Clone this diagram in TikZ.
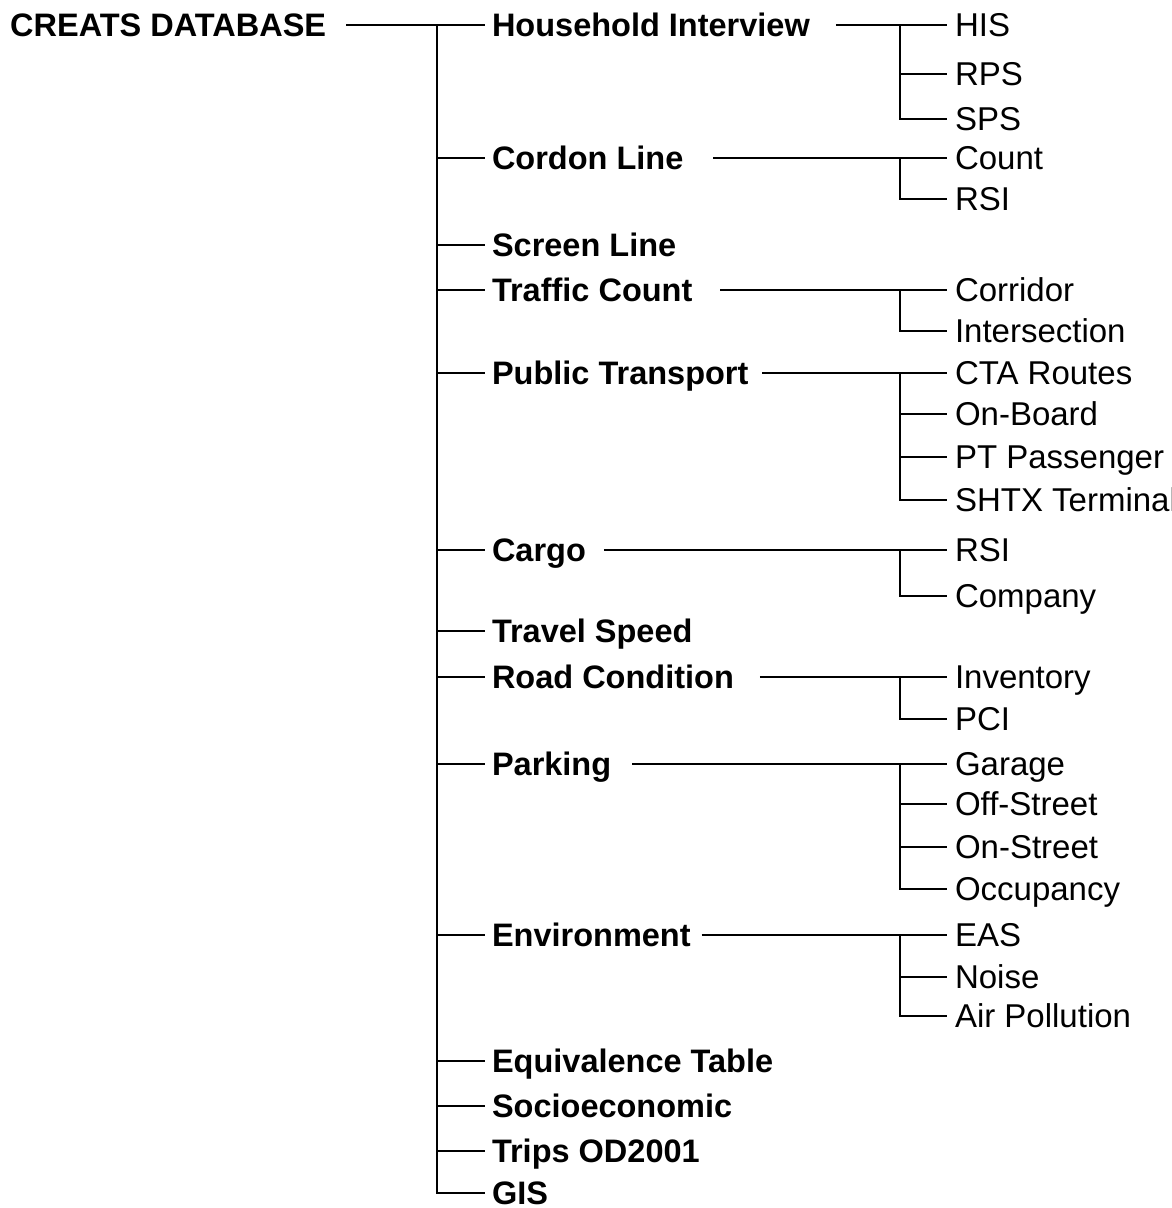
\documentclass[tikz,border=0pt]{standalone}
\usepackage{fontspec}
\setmainfont{Liberation Sans}
\usetikzlibrary{positioning}
\tikzset{
  lbl/.style={anchor=west, inner sep=0pt, text height=23.5pt, text depth=0pt,
    font=\fontsize{33}{37}\selectfont},
  root/.style={lbl, font=\fontsize{32.5}{37}\selectfont\bfseries},
  topic/.style={root, outer xsep=7pt},
  item/.style={lbl, outer xsep=8pt},
  link/.style={line width=2pt},
}

\begin{document}
\begin{tikzpicture}[x=1pt,y=-1pt]
  \useasboundingbox (0,0) rectangle (1171,1208);
  \coordinate (trunk) at (437,0);
  \coordinate (fork) at (900,0);

  \node[root] (db) at (10,25) {CREATS DATABASE};

  % first level
  \foreach \name/\y/\txt in {hh/25/Household Interview, cl/158/Cordon Line,
      sl/245/Screen Line, tc/290/Traffic Count, pt/373/Public Transport,
      cg/550/Cargo, ts/631/Travel Speed, rc/677/Road Condition,
      pk/764/Parking, env/935/Environment, eq/1061/Equivalence Table,
      se/1106/Socioeconomic, od/1151/Trips OD2001, gis/1193/GIS}
    \node[topic] (\name) at (485,\y) {\txt};

  % second level
  \foreach \name/\y/\txt in {his/25/HIS, rps/74/RPS, sps/119/SPS,
      count/158/Count, rsia/199/RSI, corridor/290/Corridor,
      inter/331/Intersection, cta/373/CTA Routes, onboard/414/On-Board,
      ptpass/457/PT Passenger, shtx/500/SHTX Terminal, rsib/550/RSI,
      company/596/Company, inventory/677/Inventory, pci/719/PCI,
      garage/764/Garage, offst/804/Off-Street, onst/847/On-Street,
      occ/889/Occupancy, eas/935/EAS, noise/977/Noise, air/1016/Air Pollution}
    \node[item] (\name) at (947,\y) {\txt};

  \draw[link] ([xshift=20pt]db.east) -- (hh.west);
  \draw[link] (trunk |- hh.west) |- (gis.west);
  \foreach \n in {cl,sl,tc,pt,cg,ts,rc,pk,env,eq,se,od}
    \draw[link] (trunk |- \n.west) -- (\n.west);

  \foreach \top/\gap/\first/\last in {hh/19/his/sps, cl/23/count/rsia,
      tc/21/corridor/inter, pt/7/cta/shtx, cg/11/rsib/company,
      rc/19/inventory/pci, pk/14/garage/occ, env/4/eas/air}
  {
    \draw[link] ([xshift=\gap pt]\top.east) -- (\first.west);
    \draw[link] (fork |- \first.west) |- (\last.west);
  }
  \foreach \n in {rps,onboard,ptpass,offst,onst,noise}
    \draw[link] (fork |- \n.west) -- (\n.west);
\end{tikzpicture}
\end{document}
